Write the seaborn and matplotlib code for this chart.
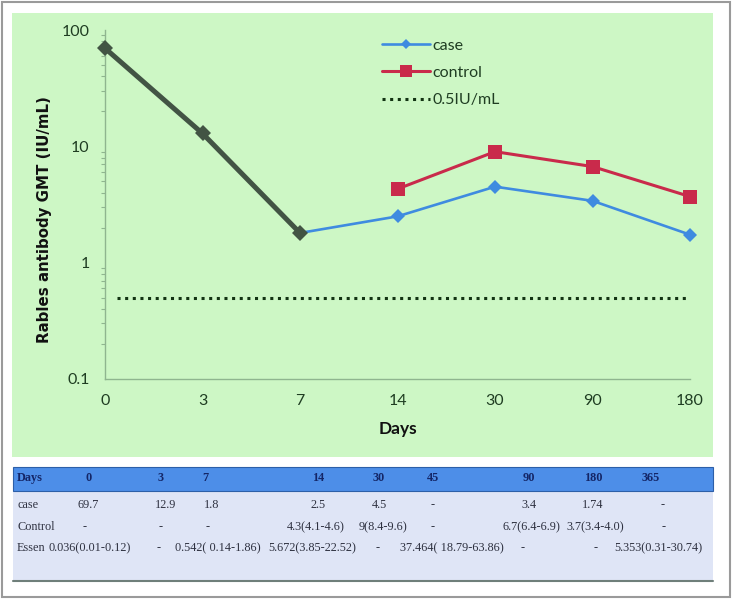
import matplotlib
matplotlib.use("Agg")
import matplotlib.pyplot as plt
import seaborn as sns
from matplotlib.patches import Rectangle
from matplotlib.lines import Line2D

# ---- data ----
days = ["0", "3", "7", "14", "30", "90", "180"]
case_values = [69.7, 12.9, 1.8, 2.5, 4.5, 3.4, 1.74]
early_days = ["0", "3", "7"]
early_values = [69.7, 12.9, 1.8]
control_days = ["14", "30", "90", "180"]
control_values = [4.3, 9, 6.7, 3.7]
threshold = 0.5

table_days = ["0", "3", "7", "14", "30", "45", "90", "180", "365"]
table_case = ["69.7", "12.9", "1.8", "2.5", "4.5", "-", "3.4", "1.74", "-"]
table_control = ["-", "-", "-", "4.3(4.1-4.6)", "9(8.4-9.6)", "-", "6.7(6.4-6.9)", "3.7(3.4-4.0)", "-"]
table_essen = ["0.036(0.01-0.12)", "-", "0.542( 0.14-1.86)", "5.672(3.85-22.52)", "-",
               "37.464( 18.79-63.86)", "-", "-", "5.353(0.31-30.74)"]

# ---- style ----
sns.set_theme(style="white")
plt.rcParams["font.family"] = ["DejaVu Sans"]
SANS = ["Lato", "DejaVu Sans"]

W, H = 732, 599
fig = plt.figure(figsize=(W / 100, H / 100), dpi=100)
fig.patch.set_facecolor("white")

def fx(px):
    return px / W

def fy(py):
    return 1 - py / H

# outer frame
fig.add_artist(Rectangle((fx(1.5), fy(597)), fx(728), (595.5) / H, transform=fig.transFigure,
                         facecolor="none", edgecolor="#9a9a9a", lw=1.5))
# green panel
GREEN = "#cdf7c5"
fig.add_artist(Rectangle((fx(12), fy(457)), fx(701), 444 / H, transform=fig.transFigure,
                         facecolor=GREEN, edgecolor="none", zorder=0))
# table background
fig.add_artist(Rectangle((fx(13), fy(581)), fx(700), 90 / H, transform=fig.transFigure,
                         facecolor="#dfe5f6", edgecolor="none", zorder=0))
fig.add_artist(Rectangle((fx(13), fy(491)), fx(700), 24 / H, transform=fig.transFigure,
                         facecolor="#4d8ee8", edgecolor="#2d5fa8", lw=0.8, zorder=1))
fig.add_artist(Line2D([fx(13), fx(713)], [fy(581), fy(581)], transform=fig.transFigure,
                      color="#6f7f7a", lw=1.5))

# ---- main axes ----
ax = fig.add_axes([fx(105), fy(379), fx(585), 349 / H])
ax.set_facecolor("none")

pos = {d: i for i, d in enumerate(days)}
BLUE = "#3f8be0"
RED = "#c92a4b"
DARK = "#425444"
DOT = "#123312"

sns.lineplot(x=[pos[d] for d in days], y=case_values, ax=ax, color=BLUE, lw=1.9,
             marker="D", markersize=7, markeredgewidth=0, zorder=3, clip_on=False)
sns.lineplot(x=[pos[d] for d in early_days], y=early_values, ax=ax, color=DARK, lw=3.6,
             marker="D", markersize=8.5, markeredgewidth=0, zorder=4, clip_on=False)
sns.lineplot(x=[pos[d] for d in control_days], y=control_values, ax=ax, color=RED, lw=2.2,
             marker="s", markersize=9.5, markeredgewidth=0, zorder=3, clip_on=False)
ax.axhline(threshold, xmin=0.02, xmax=0.993, color=DOT, lw=2.2, ls=(0, (1, 1.5)), zorder=2)

ax.set_yscale("log")
ax.set_ylim(0.1, 100)
ax.set_xlim(0, len(days) - 1)
ax.set_xticks(range(len(days)))
ax.set_xticklabels(days)
ax.set_yticks([0.1, 1, 10, 100])
ax.set_yticklabels(["0.1", "1", "10", "100"])

for s in ["top", "right"]:
    ax.spines[s].set_visible(False)
for s in ["left", "bottom"]:
    ax.spines[s].set_color("#8fb58f")
    ax.spines[s].set_linewidth(1.0)

TXT = "#1f3d22"
ax.tick_params(axis="both", which="major", direction="out", length=5, width=1,
               color="#8fb58f", labelsize=11.5, labelcolor=TXT, pad=6)
ax.tick_params(axis="y", which="minor", direction="out", length=3, width=0.8, color="#8fb58f", left=True)
ax.tick_params(axis="x", which="minor", bottom=False)
for lab in ax.get_xticklabels() + ax.get_yticklabels():
    lab.set_family(SANS)

ax.set_xlabel("Days", fontsize=12.5, fontweight="bold", color="#111111", labelpad=9,
              family=SANS)
ax.set_ylabel("Rables antibody GMT (IU/mL)", fontsize=10.8, fontweight="bold", color="#111111")
ax.yaxis.set_label_coords((52 - 105) / 585, (379 - 220) / 349)
ax.grid(False)

handles = [
    Line2D([], [], color=BLUE, lw=1.9, marker="D", markersize=5.5, markeredgewidth=0),
    Line2D([], [], color=RED, lw=2.2, marker="s", markersize=8.5, markeredgewidth=0),
    Line2D([], [], color=DOT, lw=2.2, ls=(0, (1, 1.5))),
]
leg = ax.legend(handles, ["case", "control", "0.5IU/mL"], loc="upper left",
                bbox_to_anchor=((368 - 105) / 585, (379 - 24) / 349), frameon=False,
                handlelength=3.0, handletextpad=0.15, labelspacing=0.83,
                prop={"family": SANS, "size": 11.5})
for t in leg.get_texts():
    t.set_color(TXT)

# ---- table ----
col_x = [89, 161, 205, 318, 379, 433, 529, 593, 651]
row_y = {"head": 478, "case": 505, "control": 527, "essen": 548}
serif = ["Liberation Serif", "DejaVu Serif"]
TS = 8.8
fig.text(fx(17), fy(row_y["head"]), "Days", ha="left", va="center", family=serif,
         fontweight="bold", fontsize=TS, color="#142667")
for x, d in zip(col_x, table_days):
    fig.text(fx(x), fy(row_y["head"]), d, ha="center", va="center", family=serif,
             fontweight="bold", fontsize=TS, color="#142667")

row_col_x = {
    "case": [88, 166, 212, 318, 379, 433, 529, 593, 663],
    "control": [85, 161, 208, 316, 383, 433, 531, 595, 664],
    "essen": [90, 159, 218, 312, 378, 452, 523, 596, 658],
}
rows = [("case", "case", table_case), ("Control", "control", table_control), ("Essen", "essen", table_essen)]
for name, key, vals in rows:
    fig.text(fx(17), fy(row_y[key]), name, ha="left", va="center", family=serif,
             fontsize=TS, color="#2e3140")
    for x, v in zip(row_col_x[key], vals):
        fig.text(fx(x), fy(row_y[key]), v, ha="center", va="center", family=serif,
                 fontsize=TS, color="#2e3140")

fig.savefig("out.png", dpi=100, facecolor="white")
